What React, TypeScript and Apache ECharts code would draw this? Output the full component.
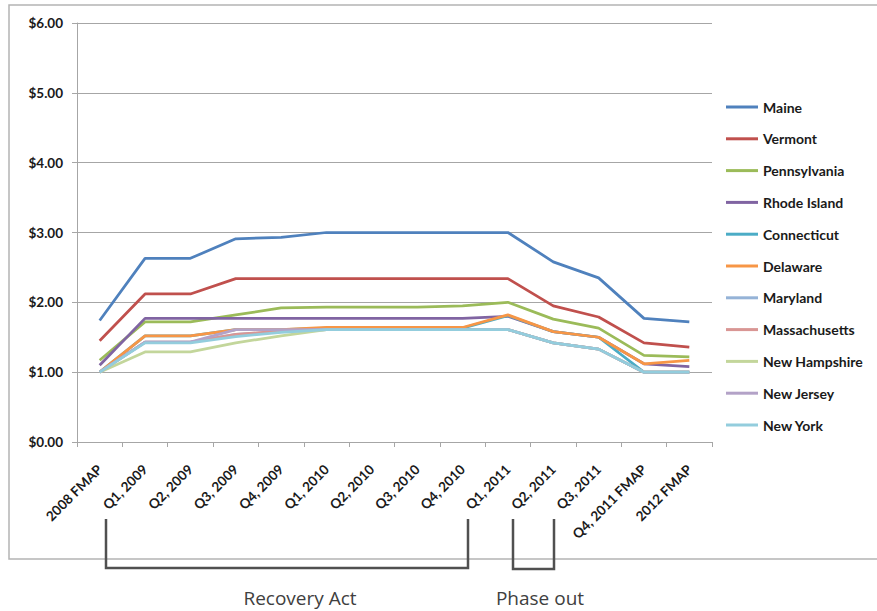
import { useEffect, useRef } from 'react';
import * as echarts from 'echarts';

// Categorías del eje X
const CATEGORIES = [
  '2008 FMAP', 'Q1, 2009', 'Q2, 2009', 'Q3, 2009', 'Q4, 2009',
  'Q1, 2010', 'Q2, 2010', 'Q3, 2010', 'Q4, 2010',
  'Q1, 2011', 'Q2, 2011', 'Q3, 2011', 'Q4, 2011 FMAP', '2012 FMAP',
];

const STATES = [
  'Maine', 'Vermont', 'Pennsylvania', 'Rhode Island', 'Connecticut', 'Delaware',
  'Maryland', 'Massachusetts', 'New Hampshire', 'New Jersey', 'New York',
];

const COLORS = [
  '#4F81BD', '#C0504D', '#9BBB59', '#8064A2', '#4BACC6', '#F79646',
  '#95B3D7', '#D99694', '#C3D69B', '#B3A2C7', '#93CDDD',
];

// Dólares federales por dólar estatal
const MAINE = [1.74, 2.63, 2.63, 2.91, 2.93, 3.0, 3.0, 3.0, 3.0, 3.0, 2.58, 2.35, 1.77, 1.72];
const VERMONT = [1.45, 2.12, 2.12, 2.34, 2.34, 2.34, 2.34, 2.34, 2.34, 2.34, 1.95, 1.79, 1.42, 1.36];
const PENNSYLVANIA = [1.17, 1.72, 1.72, 1.82, 1.92, 1.93, 1.93, 1.93, 1.95, 2.0, 1.76, 1.63, 1.24, 1.22];
const RHODE_ISLAND = [1.1, 1.77, 1.77, 1.77, 1.77, 1.77, 1.77, 1.77, 1.77, 1.8, 1.58, 1.5, 1.12, 1.08];
const CONNECTICUT = [1.0, 1.52, 1.52, 1.61, 1.61, 1.63, 1.63, 1.63, 1.63, 1.81, 1.58, 1.5, 1.0, 1.0];
const DELAWARE = [1.0, 1.52, 1.52, 1.61, 1.61, 1.64, 1.64, 1.64, 1.64, 1.82, 1.58, 1.5, 1.12, 1.17];
const MARYLAND = [1.0, 1.43, 1.43, 1.54, 1.58, 1.61, 1.61, 1.61, 1.61, 1.61, 1.42, 1.33, 1.0, 1.0];
const MASSACHUSETTS = [1.0, 1.43, 1.43, 1.54, 1.59, 1.61, 1.61, 1.61, 1.61, 1.61, 1.42, 1.33, 1.0, 1.0];
const NEW_HAMPSHIRE = [1.0, 1.29, 1.29, 1.42, 1.52, 1.61, 1.61, 1.61, 1.61, 1.61, 1.42, 1.33, 1.0, 1.0];
const NEW_JERSEY = [1.0, 1.43, 1.43, 1.61, 1.61, 1.61, 1.61, 1.61, 1.61, 1.61, 1.42, 1.33, 1.0, 1.0];
const NEW_YORK = [1.0, 1.42, 1.42, 1.51, 1.57, 1.61, 1.61, 1.61, 1.61, 1.61, 1.42, 1.33, 1.0, 1.0];

const VALUES = [
  MAINE, VERMONT, PENNSYLVANIA, RHODE_ISLAND, CONNECTICUT, DELAWARE,
  MARYLAND, MASSACHUSETTS, NEW_HAMPSHIRE, NEW_JERSEY, NEW_YORK,
];

const FONT = 'Lato, "Open Sans", sans-serif';
const GRID_GRAY = '#A6A6A6';

export default function App() {
  const ref = useRef<HTMLDivElement>(null);

  useEffect(() => {
    if (!ref.current) return;
    const chart = echarts.init(ref.current, null, { renderer: 'svg' });

    const series = STATES.map((name, i) => ({
      name,
      type: 'line',
      data: VALUES[i],
      symbol: 'none',
      color: COLORS[i],
      lineStyle: { width: 2.75, color: COLORS[i] },
    }));

    chart.setOption({
      animation: false,
      backgroundColor: '#FFFFFF',
      grid: { left: 77, top: 23, right: 165, bottom: 169, containLabel: false },
      legend: {
        orient: 'vertical',
        left: 721,
        top: 95,
        icon: 'path://M0,0 L32,0 L32,3 L0,3 Z',
        itemWidth: 32,
        itemHeight: 14,
        itemGap: 17.8,
        data: STATES,
        textStyle: { fontFamily: FONT, fontWeight: 'bold', fontSize: 14, color: '#1A1A1A' },
      },
      xAxis: {
        type: 'category',
        data: CATEGORIES,
        boundaryGap: true,
        axisLine: { lineStyle: { color: GRID_GRAY, width: 1 } },
        axisTick: { show: true, length: 5, lineStyle: { color: GRID_GRAY } },
        axisLabel: {
          interval: 0,
          rotate: 45,
          margin: 25,
          fontFamily: FONT,
          fontWeight: 'bold',
          fontSize: 13.5,
          color: '#1A1A1A',
        },
        splitLine: { show: false },
      },
      yAxis: {
        type: 'value',
        min: 0,
        max: 6,
        interval: 1,
        axisLine: { show: true, lineStyle: { color: GRID_GRAY, width: 1 } },
        axisTick: { show: true, length: 5, lineStyle: { color: GRID_GRAY } },
        axisLabel: {
          margin: 14,
          formatter: (v: number) => '$' + v.toFixed(2),
          fontFamily: FONT,
          fontWeight: 'bold',
          fontSize: 13.5,
          color: '#1A1A1A',
        },
        splitLine: { show: true, lineStyle: { color: GRID_GRAY, width: 1 } },
      },
      graphic: [
        {
          type: 'rect',
          shape: { x: 9, y: 5, width: 880, height: 554 },
          style: { fill: 'none', stroke: '#B4B4B4', lineWidth: 1.5 },
          z: -1,
        },
        {
          type: 'polyline',
          shape: { points: [[106, 519], [106, 568], [468, 568], [468, 519]] },
          style: { fill: 'none', stroke: '#505050', lineWidth: 2.5 },
        },
        {
          type: 'polyline',
          shape: { points: [[513, 519], [513, 569], [554, 569], [554, 519]] },
          style: { fill: 'none', stroke: '#505050', lineWidth: 2.5 },
        },
        {
          type: 'text',
          x: 300,
          y: 598,
          style: {
            text: 'Recovery Act',
            fontFamily: '"Open Sans", sans-serif',
            fontSize: 19,
            fill: '#404040',
            align: 'center',
            verticalAlign: 'middle',
          },
        },
        {
          type: 'text',
          x: 540,
          y: 598,
          style: {
            text: 'Phase out',
            fontFamily: '"Open Sans", sans-serif',
            fontSize: 19,
            fill: '#404040',
            align: 'center',
            verticalAlign: 'middle',
          },
        },
      ],
      series,
    });

    return () => chart.dispose();
  }, []);

  return (
    <div
      ref={ref}
      style={{ position: 'absolute', left: 0, top: 0, width: 877, height: 611 }}
    />
  );
}
